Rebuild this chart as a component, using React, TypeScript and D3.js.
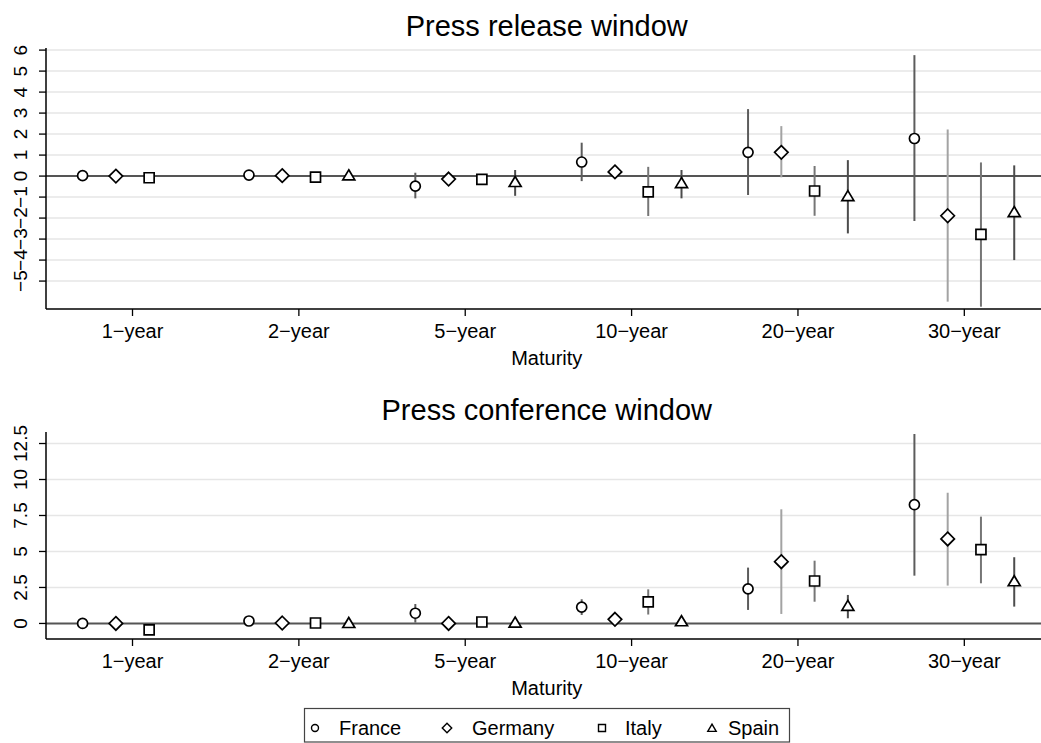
import * as d3 from "d3";

const maturities = ["1−year", "2−year", "5−year", "10−year", "20−year", "30−year"];
const countries = ["France", "Germany", "Italy", "Spain"];

// press release window (estimate, lower, upper)
const relFrance = [0.02, 0.05, -0.48, 0.67, 1.13, 1.79];
const relFranceLo = [-0.05, -0.02, -1.06, -0.24, -0.9, -2.14];
const relFranceHi = [0.08, 0.12, 0.16, 1.59, 3.19, 5.76];
const relGermany = [0.0, 0.02, -0.14, 0.2, 1.13, -1.89];
const relGermanyLo = [-0.05, -0.03, -0.2, 0.12, -0.06, -5.98];
const relGermanyHi = [0.05, 0.07, -0.08, 0.28, 2.38, 2.22];
const relItaly = [-0.08, -0.05, -0.16, -0.75, -0.71, -2.78];
const relItalyLo = [-0.14, -0.1, -0.24, -1.9, -1.89, -6.22];
const relItalyHi = [-0.02, 0.0, -0.08, 0.44, 0.48, 0.65];
const relSpain = [null, 0.05, -0.27, -0.32, -0.94, -1.7];
const relSpainLo = [null, 0.0, -0.94, -1.06, -2.73, -4.0];
const relSpainHi = [null, 0.1, 0.29, 0.29, 0.76, 0.51];

// press conference window
const confFrance = [0.0, 0.17, 0.71, 1.13, 2.4, 8.25];
const confFranceLo = [-0.1, 0.05, 0.06, 0.59, 0.94, 3.32];
const confFranceHi = [0.1, 0.3, 1.35, 1.68, 3.88, 13.16];
const confGermany = [0.0, 0.03, 0.0, 0.29, 4.29, 5.87];
const confGermanyLo = [-0.05, -0.02, -0.05, 0.2, 0.66, 2.63];
const confGermanyHi = [0.05, 0.08, 0.05, 0.38, 7.93, 9.08];
const confItaly = [-0.45, 0.03, 0.1, 1.5, 2.95, 5.13];
const confItalyLo = [-0.8, -0.02, 0.0, 0.62, 1.51, 2.79];
const confItalyHi = [-0.1, 0.08, 0.2, 2.37, 4.36, 7.42];
const confSpain = [null, 0.05, 0.08, 0.17, 1.24, 2.95];
const confSpainLo = [null, 0.0, 0.0, 0.08, 0.36, 1.17];
const confSpainHi = [null, 0.1, 0.16, 0.26, 1.98, 4.6];

const releaseTicks = [-5, -4, -3, -2, -1, 0, 1, 2, 3, 4, 5, 6];
const releaseTickLabels = ["−5", "−4", "−3", "−2", "−1", "0", "1", "2", "3", "4", "5", "6"];
const confTicks = [0, 2.5, 5, 7.5, 10, 12.5];
const confTickLabels = ["0", "2.5", "5", "7.5", "10", "12.5"];

const W = 1041;
const H = 743;
const FONT = "'Liberation Sans', Arial, Helvetica, sans-serif";
const barColors = ["#5c5c5c", "#a3a3a3", "#767676", "#4c4c4c"];

const x = d3.scaleLinear().domain([-0.52, 5.5]).range([46, 1047.5]);
const offset = (k: number) => (k - 1.5) * 0.2;

function markerPath(k: number, s: number) {
  // s ~ half size
  if (k === 0) {
    const p = d3.path();
    p.arc(0, 0, s, 0, Math.PI * 2);
    p.closePath();
    return p.toString();
  }
  if (k === 1) {
    const d = s * 1.35;
    return `M0,${-d}L${d},0L0,${d}L${-d},0Z`;
  }
  if (k === 2) {
    return `M${-s},${-s}L${s},${-s}L${s},${s}L${-s},${s}Z`;
  }
  const w = s * 1.2;
  const h = s * 1.9;
  return `M0,${-h / 2 - 0.5}L${w},${h / 2}L${-w},${h / 2}Z`;
}

type Series = { mid: (number | null)[]; lo: (number | null)[]; hi: (number | null)[] };

function Panel(props: {
  title: string;
  titleY: number;
  top: number;
  bottom: number;
  domain: [number, number];
  ticks: number[];
  tickLabels: string[];
  series: Series[];
}) {
  const { title, titleY, top, bottom, domain, ticks, tickLabels, series } = props;
  const y = d3.scaleLinear().domain(domain).range([bottom, top]);
  const [x0, x1] = x.range();
  const cx = (x0 + x1) / 2;
  return (
    <g>
      <text x={cx} y={titleY} textAnchor="middle" fontSize={29} fill="#000">
        {title}
      </text>
      {ticks
        .filter((t) => t !== 0)
        .map((t) => (
          <line key={"g" + t} x1={x0} x2={W} y1={y(t)} y2={y(t)} stroke="#e6e6e6" strokeWidth={1.5} />
        ))}
      <line x1={x0} x2={W} y1={y(0)} y2={y(0)} stroke="#555" strokeWidth={2} />
      {series.map((s, k) =>
        s.mid.map((v, i) =>
          v == null ? null : (
            <line
              key={"b" + k + "-" + i}
              x1={x(i + offset(k))}
              x2={x(i + offset(k))}
              y1={y(s.lo[i] as number)}
              y2={y(s.hi[i] as number)}
              stroke={barColors[k]}
              strokeWidth={2}
            />
          )
        )
      )}
      {series.map((s, k) =>
        s.mid.map((v, i) =>
          v == null ? null : (
            <path
              key={"m" + k + "-" + i}
              d={markerPath(k, 5)}
              transform={`translate(${x(i + offset(k))},${y(v)})`}
              fill="#fff"
              stroke="#000"
              strokeWidth={1.7}
            />
          )
        )
      )}
      {/* y axis */}
      <line x1={x0} x2={x0} y1={top} y2={bottom} stroke="#000" strokeWidth={1.5} />
      {ticks.map((t, j) => (
        <g key={"t" + t}>
          <line x1={x0 - 7} x2={x0} y1={y(t)} y2={y(t)} stroke="#000" strokeWidth={1.3} />
          <text transform={`translate(27,${y(t)}) rotate(-90)`} textAnchor="middle" fontSize={19}>
            {tickLabels[j]}
          </text>
        </g>
      ))}
      {/* x axis */}
      <line x1={x0} x2={W} y1={bottom} y2={bottom} stroke="#000" strokeWidth={1.5} />
      {maturities.map((m, i) => (
        <g key={m}>
          <line x1={x(i)} x2={x(i)} y1={bottom} y2={bottom + 7} stroke="#000" strokeWidth={1.3} />
          <text x={x(i)} y={bottom + 28.5} textAnchor="middle" fontSize={20}>
            {m}
          </text>
        </g>
      ))}
      <text x={cx} y={bottom + 56} textAnchor="middle" fontSize={20}>
        Maturity
      </text>
    </g>
  );
}

function Legend() {
  const itemMarkerX = [315, 447, 602, 712];
  const itemTextX = [339, 472, 625, 728];
  return (
    <g>
      <rect x={304.5} y={708.5} width={485} height={33.5} fill="#fff" stroke="#444" strokeWidth={1.2} />
      {countries.map((c, k) => (
        <g key={c}>
          <path
            d={markerPath(k, 3.5)}
            transform={`translate(${itemMarkerX[k]},728)`}
            fill="#fff"
            stroke="#000"
            strokeWidth={1.4}
          />
          <text x={itemTextX[k]} y={735} fontSize={20}>
            {c}
          </text>
        </g>
      ))}
    </g>
  );
}

export default function App() {
  const release: Series[] = [
    { mid: relFrance, lo: relFranceLo, hi: relFranceHi },
    { mid: relGermany, lo: relGermanyLo, hi: relGermanyHi },
    { mid: relItaly, lo: relItalyLo, hi: relItalyHi },
    { mid: relSpain, lo: relSpainLo, hi: relSpainHi },
  ];
  const conference: Series[] = [
    { mid: confFrance, lo: confFranceLo, hi: confFranceHi },
    { mid: confGermany, lo: confGermanyLo, hi: confGermanyHi },
    { mid: confItaly, lo: confItalyLo, hi: confItalyHi },
    { mid: confSpain, lo: confSpainLo, hi: confSpainHi },
  ];
  return (
    <svg
      width={W}
      height={H}
      style={{ position: "absolute", left: 0, top: 0, background: "#fff" }}
      fontFamily={FONT}
    >
      <rect width={W} height={H} fill="#fff" />
      <Panel
        title="Press release window"
        titleY={36}
        top={48}
        bottom={309}
        domain={[-6.33, 6.1]}
        ticks={releaseTicks}
        tickLabels={releaseTickLabels}
        series={release}
      />
      <Panel
        title="Press conference window"
        titleY={420}
        top={432}
        bottom={639}
        domain={[-1.08, 13.3]}
        ticks={confTicks}
        tickLabels={confTickLabels}
        series={conference}
      />
      <Legend />
    </svg>
  );
}
